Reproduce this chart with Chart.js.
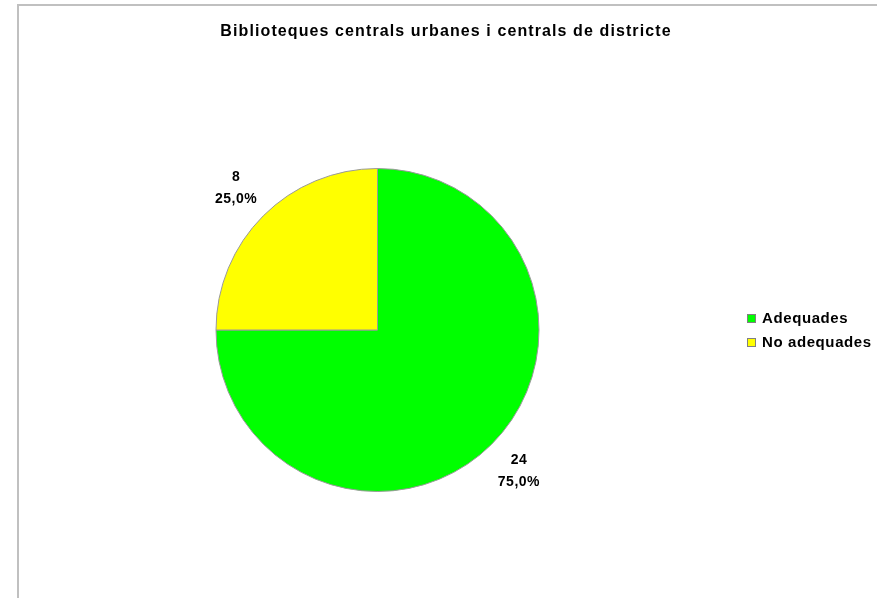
<!DOCTYPE html>
<html>
<head>
<meta charset="utf-8">
<script src="https://cdn.jsdelivr.net/npm/chart.js@4"></script>
<style>
  html, body { margin: 0; padding: 0; background: #fff; }
  #wrap { position: relative; width: 877px; height: 598px; }
</style>
</head>
<body>
<div id="wrap"><canvas id="c" width="877" height="598"></canvas></div>
<script>
const titleText = 'Biblioteques centrals urbanes i centrals de districte';
const categories = ['Adequades', 'No adequades'];
const values = [24, 8];
const colors = ['#00FF00', '#FFFF00'];

const FONT = '"Liberation Sans", Arial, sans-serif';

const overlay = {
  id: 'overlay',
  beforeDraw(chart) {
    const ctx = chart.ctx;
    ctx.save();
    ctx.strokeStyle = '#c0c0c0';
    ctx.lineWidth = 2;
    ctx.beginPath();
    ctx.moveTo(18, 600);
    ctx.lineTo(18, 5);
    ctx.lineTo(880, 5);
    ctx.stroke();
    ctx.restore();
  },
  afterDraw(chart) {
    const ctx = chart.ctx;
    ctx.save();
    // title
    ctx.fillStyle = '#000';
    ctx.font = 'bold 16px ' + FONT;
    ctx.textAlign = 'center';
    ctx.textBaseline = 'middle';
    ctx.letterSpacing = '1.1px';
    ctx.fillText(titleText, 446, 32);

    // data labels
    ctx.font = 'bold 14px ' + FONT;
    ctx.letterSpacing = '0.5px';
    const total = values.reduce((a, b) => a + b, 0);
    const meta = chart.getDatasetMeta(0);
    meta.data.forEach((arc, i) => {
      const p = arc.getProps(['x', 'y', 'startAngle', 'endAngle', 'outerRadius'], true);
      const mid = (p.startAngle + p.endAngle) / 2;
      const d = p.outerRadius + 38.5;
      const cx = p.x + Math.cos(mid) * d;
      const cy = p.y + Math.sin(mid) * d;
      const pct = (values[i] / total * 100).toFixed(1).replace('.', ',') + '%';
      ctx.fillText(String(values[i]), cx, cy - 11);
      ctx.fillText(pct, cx, cy + 11);
    });

    // legend
    ctx.textAlign = 'left';
    ctx.font = 'bold 15px ' + FONT;
    ctx.letterSpacing = '0.6px';
    categories.forEach((c, i) => {
      const y = 318 + i * 24;
      ctx.fillStyle = colors[i];
      ctx.fillRect(747, y - 4, 9, 9);
      ctx.strokeStyle = '#808080';
      ctx.lineWidth = 1;
      ctx.strokeRect(747.5, y - 3.5, 8, 8);
      ctx.fillStyle = '#000';
      ctx.fillText(c, 762, y + 1);
    });
    ctx.restore();
  }
};

new Chart(document.getElementById('c'), {
  type: 'pie',
  data: {
    labels: categories,
    datasets: [{
      data: values,
      backgroundColor: colors,
      borderColor: '#999999',
      borderWidth: 1
    }]
  },
  options: {
    responsive: false,
    animation: false,
    events: [],
    layout: { padding: { left: 215, right: 337, top: 168, bottom: 106 } },
    plugins: {
      legend: { display: false },
      title: { display: false },
      tooltip: { enabled: false }
    }
  },
  plugins: [overlay]
});
</script>
</body>
</html>
